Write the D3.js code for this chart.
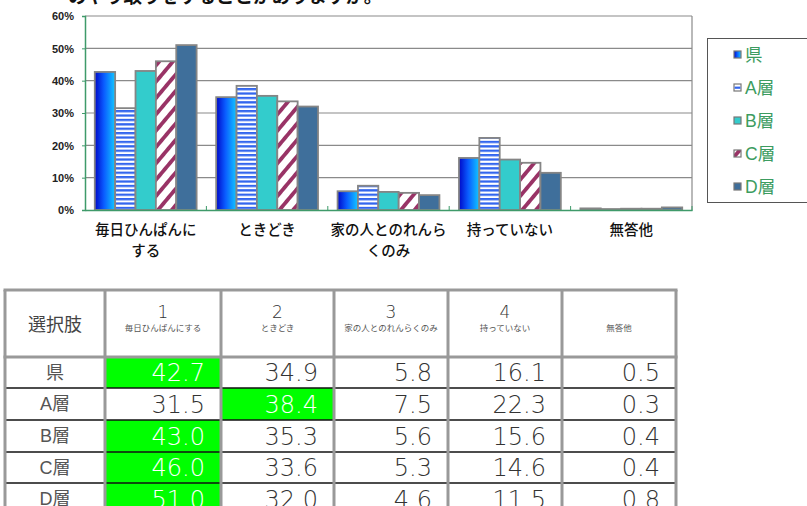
<!DOCTYPE html>
<html>
<head>
<meta charset="utf-8">
<script src="https://cdn.jsdelivr.net/npm/d3@7"></script>
<style>
  html, body { margin: 0; padding: 0; background: #fff; }
  svg { display: block; }
</style>
</head>
<body>
<svg id="chart" width="807" height="506"></svg>
<script>
// Answer categories (x axis and table columns)
const categories = ["毎日ひんぱんにする", "ときどき", "家の人とのれんらくのみ", "持っていない", "無答他"];
const axisLabelLines = [["毎日ひんぱんに", "する"], ["ときどき"], ["家の人とのれんら", "くのみ"], ["持っていない"], ["無答他"]];
const headerNumbers = ["1", "2", "3", "4", ""];

// Respondent groups
const series = ["県", "A層", "B層", "C層", "D層"];

// Percentages per group, in category order
const kenValues = [42.7, 34.9, 5.8, 16.1, 0.5];
const aValues   = [31.5, 38.4, 7.5, 22.3, 0.3];
const bValues   = [43.0, 35.3, 5.6, 15.6, 0.4];
const cValues   = [46.0, 33.6, 5.3, 14.6, 0.4];
const dValues   = [51.0, 32.0, 4.6, 11.5, 0.8];

const yTicks = [0, 10, 20, 30, 40, 50, 60];
const titleText = "のやり取りをすることがありますか。";

const seriesValues = [kenValues, aValues, bValues, cValues, dValues];

const svg = d3.select("#chart");
const defs = svg.append("defs");

// Fills for each group
const grad = defs.append("linearGradient").attr("id", "fill-ken")
  .attr("x1", "0%").attr("x2", "100%").attr("y1", "0%").attr("y2", "0%");
grad.append("stop").attr("offset", "0%").attr("stop-color", "#0008c8");
grad.append("stop").attr("offset", "45%").attr("stop-color", "#0a5cff");
grad.append("stop").attr("offset", "100%").attr("stop-color", "#12c8ff");

const pa = defs.append("pattern").attr("id", "fill-a")
  .attr("patternUnits", "userSpaceOnUse").attr("width", 8).attr("height", 4.4);
pa.append("rect").attr("width", 8).attr("height", 4.4).attr("fill", "#fff");
pa.append("rect").attr("y", 0).attr("width", 8).attr("height", 2.3).attr("fill", "#3366ee");

const pc = defs.append("pattern").attr("id", "fill-c")
  .attr("patternUnits", "userSpaceOnUse").attr("width", 10.5).attr("height", 10.5)
  .attr("patternTransform", "rotate(40)");
pc.append("rect").attr("width", 10.5).attr("height", 10.5).attr("fill", "#fff");
pc.append("rect").attr("x", 0).attr("width", 3.8).attr("height", 10.5).attr("fill", "#993366");

const fills = ["url(#fill-ken)", "url(#fill-a)", "#33cccc", "url(#fill-c)", "#3f6f9b"];
const fillScale = d3.scaleOrdinal().domain(series).range(fills);

// Title line (runs off the top edge)
svg.append("text")
  .attr("x", 68).attr("y", 3)
  .attr("font-family", "'Noto Sans CJK JP', sans-serif")
  .attr("font-weight", "bold")
  .attr("font-size", 18.5)
  .attr("fill", "#111")
  .text(titleText);

// ---- Bar chart ----
const plotLeft = 85, plotRight = 692, plotTop = 16, plotBottom = 210;

const x0 = d3.scaleBand().domain(categories).range([plotLeft, plotRight]);
const x1 = d3.scaleBand().domain(series).range([0, x0.bandwidth()]).paddingInner(0).paddingOuter(0.48);
const y = d3.scaleLinear().domain([0, 60]).range([plotBottom, plotTop]);

const axisGreen = "#3f9a6a";

// Grid lines
svg.append("g").selectAll("line").data(yTicks.filter(t => t > 0)).join("line")
  .attr("x1", plotLeft).attr("x2", plotRight)
  .attr("y1", d => y(d)).attr("y2", d => y(d))
  .attr("stroke", "#8a8a8a").attr("stroke-width", 1.2);

// Right border of plot
svg.append("line")
  .attr("x1", plotRight).attr("x2", plotRight)
  .attr("y1", plotTop).attr("y2", plotBottom)
  .attr("stroke", "#8a8a8a").attr("stroke-width", 1.2);

// Bars
const groups = svg.append("g").selectAll("g").data(categories).join("g")
  .attr("transform", d => `translate(${x0(d)},0)`);

groups.selectAll("rect")
  .data((cat, i) => series.map((s, j) => ({ s, v: seriesValues[j][i] })))
  .join("rect")
  .attr("x", d => x1(d.s))
  .attr("y", d => y(d.v))
  .attr("width", x1.bandwidth())
  .attr("height", d => y(0) - y(d.v))
  .attr("fill", d => fillScale(d.s))
  .attr("stroke", "#858585")
  .attr("stroke-width", 1.8);

// Y axis
const yAxis = d3.axisLeft(y).tickValues(yTicks).tickSize(3).tickFormat(d => d + "%");
const gy = svg.append("g").attr("transform", `translate(${plotLeft},0)`).call(yAxis);
gy.select(".domain").attr("stroke", axisGreen).attr("stroke-width", 1.5);
gy.selectAll(".tick line").attr("stroke", axisGreen);
gy.selectAll(".tick text")
  .attr("x", -11)
  .attr("dy", "0.35em")
  .attr("font-family", "'Liberation Sans', Arial, sans-serif")
  .attr("font-weight", "bold")
  .attr("font-size", 11)
  .attr("fill", "#222");

// X axis
const xAxis = d3.axisBottom(x0).tickSize(0).tickFormat("");
const gx = svg.append("g").attr("transform", `translate(0,${plotBottom})`).call(xAxis);
gx.select(".domain").attr("stroke", axisGreen).attr("stroke-width", 1.5);

// Boundary ticks between categories
svg.append("g").selectAll("line")
  .data(categories.slice(1).concat(["end"]))
  .join("line")
  .attr("x1", (d, i) => i < categories.length - 1 ? x0(d) : plotRight)
  .attr("x2", (d, i) => i < categories.length - 1 ? x0(d) : plotRight)
  .attr("y1", plotBottom - 4).attr("y2", plotBottom + 1)
  .attr("stroke", axisGreen).attr("stroke-width", 1);

// Category labels
const labels = svg.append("g").selectAll("text").data(categories).join("text")
  .attr("x", d => x0(d) + x0.bandwidth() / 2)
  .attr("y", 235)
  .attr("text-anchor", "middle")
  .attr("font-family", "'Noto Sans CJK JP', sans-serif")
  .attr("font-weight", 500)
  .attr("font-size", 14.5)
  .attr("fill", "#111");
labels.each(function (d, i) {
  d3.select(this).selectAll("tspan").data(axisLabelLines[i]).join("tspan")
    .attr("x", x0(d) + x0.bandwidth() / 2)
    .attr("dy", (t, k) => k === 0 ? 0 : 21)
    .text(t => t);
});

// Legend
const legend = svg.append("g");
legend.append("rect")
  .attr("x", 707.5).attr("y", 38.5).attr("width", 104).attr("height", 164)
  .attr("fill", "#fff").attr("stroke", "#555").attr("stroke-width", 1);
const legendY = d3.scalePoint().domain(series).range([55, 187]);
const li = legend.selectAll("g").data(series).join("g")
  .attr("transform", d => `translate(734,${legendY(d)})`);
li.append("rect")
  .attr("x", 0).attr("y", -4).attr("width", 7).attr("height", 7)
  .attr("fill", d => d === "A層" ? "#fff" : fillScale(d))
  .attr("stroke", "#777").attr("stroke-width", 1.2);
li.filter(d => d === "A層").append("rect")
  .attr("x", 0.6).attr("y", -1.4).attr("width", 5.8).attr("height", 2.2).attr("fill", "#3366ee");
li.append("text")
  .attr("x", 11).attr("y", 0).attr("dy", "0.36em")
  .attr("font-family", "'Liberation Sans', 'Noto Sans CJK JP', sans-serif")
  .attr("font-size", 17.5)
  .attr("fill", "#3c9c60")
  .text(d => d);

// ---- Data table ----
const colEdges = [5, 105, 221, 334, 448, 562, 676];
const headerTop = 290, headerBottom = 357;
const rowEdges = [357, 388, 420, 452, 483, 515];

const table = svg.append("g");
const fmt = d3.format(".1f");

// Highlight the largest value in each row
series.forEach((s, r) => {
  const vals = seriesValues[r];
  const maxV = d3.max(vals);
  vals.forEach((v, c) => {
    if (v === maxV) {
      table.append("rect")
        .attr("x", colEdges[c + 1]).attr("y", rowEdges[r])
        .attr("width", colEdges[c + 2] - colEdges[c + 1])
        .attr("height", rowEdges[r + 1] - rowEdges[r])
        .attr("fill", "#00ff00");
    }
  });
});

// Horizontal row separators (dark)
table.selectAll("line.row").data(rowEdges.slice(1)).join("line")
  .attr("class", "row")
  .attr("x1", colEdges[0]).attr("x2", colEdges[colEdges.length - 1])
  .attr("y1", d => d).attr("y2", d => d)
  .attr("stroke", "#111").attr("stroke-width", 1.5);

// Header borders and vertical borders (grey)
table.append("line")
  .attr("x1", colEdges[0] - 1.5).attr("x2", colEdges[colEdges.length - 1] + 1.5)
  .attr("y1", headerTop).attr("y2", headerTop)
  .attr("stroke", "#999").attr("stroke-width", 3);
table.append("line")
  .attr("x1", colEdges[0] - 1.5).attr("x2", colEdges[colEdges.length - 1] + 1.5)
  .attr("y1", headerBottom).attr("y2", headerBottom)
  .attr("stroke", "#999").attr("stroke-width", 3);
table.selectAll("line.col").data(colEdges).join("line")
  .attr("class", "col")
  .attr("x1", d => d).attr("x2", d => d)
  .attr("y1", headerTop).attr("y2", 520)
  .attr("stroke", "#999").attr("stroke-width", 3);

const cjk = "'Noto Sans CJK JP', sans-serif";

// Header cells
table.append("text")
  .attr("x", (colEdges[0] + colEdges[1]) / 2).attr("y", 325).attr("dy", "0.35em")
  .attr("text-anchor", "middle").attr("font-family", cjk).attr("font-size", 18)
  .attr("fill", "#444").text("選択肢");

categories.forEach((cat, i) => {
  const cx = (colEdges[i + 1] + colEdges[i + 2]) / 2;
  if (headerNumbers[i]) {
    table.append("text")
      .attr("x", cx).attr("y", 318)
      .attr("text-anchor", "middle")
      .attr("font-family", "'DejaVu Sans', sans-serif").attr("font-weight", 300)
      .attr("font-size", 17).attr("fill", "#333")
      .text(headerNumbers[i]);
  }
  table.append("text")
    .attr("x", cx).attr("y", 328).attr("dy", "0.35em")
    .attr("text-anchor", "middle").attr("font-family", cjk)
    .attr("font-size", 8.5).attr("fill", "#555")
    .text(cat);
});

// Row labels and values
series.forEach((s, r) => {
  const cy = (rowEdges[r] + rowEdges[r + 1]) / 2;
  table.append("text")
    .attr("x", (colEdges[0] + colEdges[1]) / 2).attr("y", cy).attr("dy", "0.36em")
    .attr("text-anchor", "middle").attr("font-family", "'Liberation Sans', " + cjk)
    .attr("font-size", 18).attr("fill", "#555").text(s);
  const vals = seriesValues[r];
  const maxV = d3.max(vals);
  vals.forEach((v, c) => {
    table.append("text")
      .attr("x", colEdges[c + 2] - 16).attr("y", cy).attr("dy", "0.36em")
      .attr("text-anchor", "end")
      .attr("font-family", "'DejaVu Sans', sans-serif")
      .attr("font-weight", 200)
      .attr("font-size", 24)
      .attr("fill", v === maxV ? "#fff" : "#333")
      .text(fmt(v));
  });
});
</script>
</body>
</html>
